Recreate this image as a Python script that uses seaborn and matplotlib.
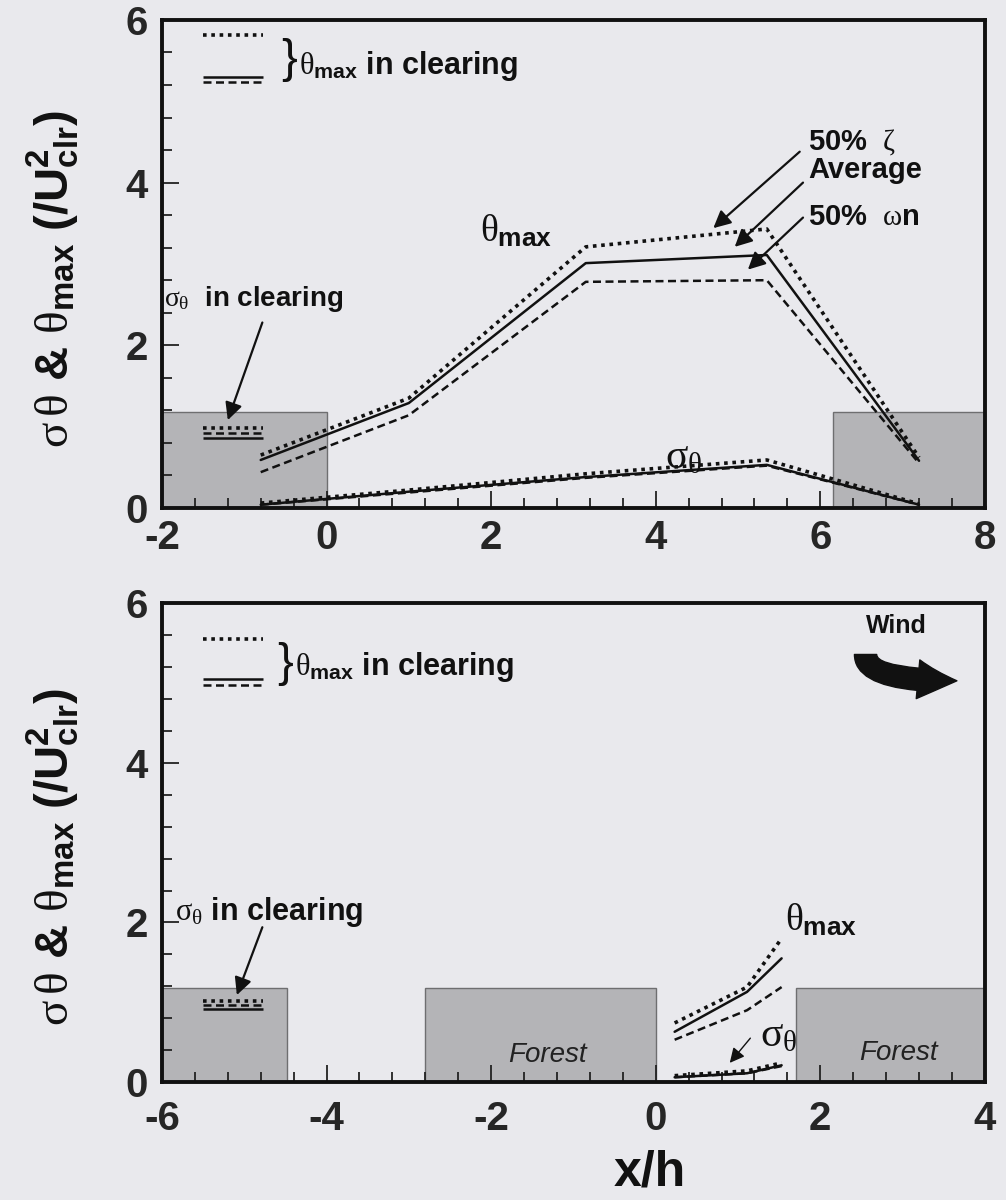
import matplotlib
matplotlib.use("Agg")
import matplotlib.pyplot as plt
import seaborn as sns
import pandas as pd
from matplotlib.ticker import MultipleLocator
from matplotlib.patches import Rectangle

# ---------------- upper panel: single clearing ----------------
x_up = [-0.8, 1.0, 3.15, 5.35, 7.2]
theta_zeta_up = [0.65, 1.35, 3.21, 3.43, 0.62]
theta_avg_up = [0.59, 1.29, 3.01, 3.11, 0.58]
theta_omega_up = [0.44, 1.14, 2.78, 2.80, 0.55]
sigma_zeta_up = [0.06, 0.22, 0.42, 0.59, 0.05]
sigma_avg_up = [0.04, 0.20, 0.38, 0.53, 0.04]
sigma_omega_up = [0.04, 0.19, 0.37, 0.52, 0.04]
# clearing reference values (zeta, average, omega)
clear_theta_up = [5.82, 5.30, 5.24]
clear_sigma_up = [0.98, 0.86, 0.92]
clear_span_up = (-1.5, -0.77)
forest_up = [(-2.0, 0.0), (6.15, 8.0)]

# ---------------- lower panel: forest strip upwind ----------------
x_lo = [0.23, 1.11, 1.53]
theta_zeta_lo = [0.74, 1.19, 1.80]
theta_avg_lo = [0.63, 1.13, 1.55]
theta_omega_lo = [0.53, 0.90, 1.19]
sigma_zeta_lo = [0.08, 0.14, 0.24]
sigma_avg_lo = [0.06, 0.11, 0.21]
sigma_omega_lo = [0.06, 0.11, 0.20]
clear_theta_lo = [5.55, 5.05, 4.97]
clear_sigma_lo = [1.02, 0.91, 0.97]
clear_span_lo = (-5.5, -4.77)
forest_lo = [(-6.0, -4.48), (-2.8, 0.0), (1.7, 4.0)]
forest_height = 1.18

BG = "#e9e9ed"
INK = "#111111"
sns.set_style("ticks")
plt.rcParams["font.family"] = ["Liberation Sans", "DejaVu Sans"]
plt.rcParams["mathtext.fontset"] = "custom"
plt.rcParams["mathtext.it"] = "Liberation Serif"
plt.rcParams["mathtext.rm"] = "Liberation Serif"
plt.rcParams["mathtext.bf"] = "Liberation Sans:bold"
plt.rcParams["axes.unicode_minus"] = False

DOT = (0, (1, 1.3))
DASH = (0, (3.2, 1.8))
styles = {"zeta": (DOT, 2.6), "avg": ("-", 1.8), "omega": (DASH, 1.8)}

YLABEL = (r"$\sigma\,\theta$ & $\theta_{\mathbf{max}}$ "
          r"(/$\mathbf{U}^{\mathbf{2}}_{\mathbf{clr}}$)")

fig = plt.figure(figsize=(10.06, 12), dpi=100, facecolor=BG)
ax1 = fig.add_axes([0.161, 0.5767, 0.818, 0.4067], facecolor=BG)
ax2 = fig.add_axes([0.161, 0.0983, 0.818, 0.399], facecolor=BG)


def style_axes(ax, xlim, xpad):
    ax.set_xlim(*xlim)
    ax.set_ylim(0, 6)
    ax.xaxis.set_major_locator(MultipleLocator(2))
    ax.xaxis.set_minor_locator(MultipleLocator(0.4))
    ax.yaxis.set_major_locator(MultipleLocator(2))
    ax.yaxis.set_minor_locator(MultipleLocator(0.4))
    ax.tick_params(which="both", direction="in", top=False, right=False,
                   width=1.3, color="#222222")
    ax.tick_params(which="major", length=12, labelsize=29, pad=10)
    ax.tick_params(axis="x", which="major", pad=xpad)
    ax.tick_params(which="minor", length=7)
    for lab in ax.get_xticklabels() + ax.get_yticklabels():
        lab.set_fontweight("bold")
    for sp in ax.spines.values():
        sp.set_linewidth(2.8)
        sp.set_color(INK)
        sp.set_visible(True)
    ax.set_ylabel(YLABEL, fontsize=34, fontweight="bold", color=INK)
    ax.yaxis.set_label_coords(-0.097, 0.47)


def draw_forest(ax, spans):
    for x0, x1 in spans:
        ax.add_patch(Rectangle((x0, 0), x1 - x0, forest_height, facecolor="#b4b4b7",
                               edgecolor="#6e6e70", lw=1.0, zorder=0.5))


def draw_series(ax, x, series):
    for key, vals in series.items():
        ls, lw = styles[key]
        df = pd.DataFrame({"x": x, "y": vals})
        sns.lineplot(data=df, x="x", y="y", ax=ax, color=INK,
                     linestyle=ls, linewidth=lw, sort=False, zorder=3)
    ax.set_xlabel("")


def draw_clearing(ax, span, theta_vals, sigma_vals, brace_x, text_y):
    for key, tv, sv in zip(["zeta", "avg", "omega"], theta_vals, sigma_vals):
        ls, lw = styles[key]
        ax.hlines(tv, span[0], span[1], colors=INK, linestyles=[ls], lw=lw)
        ax.hlines(sv, span[0], span[1], colors=INK, linestyles=[ls], lw=lw, zorder=3)
    mid = (max(theta_vals) + min(theta_vals)) / 2
    ax.text(brace_x, mid - 0.02, "}", fontsize=34, ha="left", va="center", color=INK)
    ax.text(brace_x + 0.22, text_y, r"$\theta_{\mathbf{max}}$ in clearing",
            fontsize=22, fontweight="bold", ha="left", va="center", color=INK)


arrow_kw = dict(arrowstyle="-|>", color=INK, lw=1.6, mutation_scale=26,
                shrinkA=0, shrinkB=0)

# ---------------- upper panel ----------------
style_axes(ax1, (-2, 8), 8)
draw_forest(ax1, forest_up)
draw_series(ax1, x_up, {"zeta": theta_zeta_up, "avg": theta_avg_up, "omega": theta_omega_up})
draw_series(ax1, x_up, {"omega": sigma_omega_up, "avg": sigma_avg_up, "zeta": sigma_zeta_up})
draw_clearing(ax1, clear_span_up, clear_theta_up, clear_sigma_up, -0.55, 5.43)
style_axes(ax1, (-2, 8), 8)

ax1.text(-1.97, 2.57, r"$\sigma_{\theta}$  in clearing", fontsize=20, fontweight="bold",
         ha="left", va="center", color=INK)
ax1.annotate("", xy=(-1.2, 1.08), xytext=(-0.78, 2.28), arrowprops=arrow_kw)
ax1.text(1.87, 3.4, r"$\theta_{\mathbf{max}}$", fontsize=27, ha="left", va="center", color=INK)
ax1.text(4.11, 0.62, r"$\sigma_{\theta}$", fontsize=30, ha="left", va="center", color=INK)
ax1.text(5.85, 4.5, r"50%  $\zeta$", fontsize=21, fontweight="bold", ha="left",
         va="center", color=INK)
ax1.text(5.85, 4.15, "Average", fontsize=21, fontweight="bold", ha="left",
         va="center", color=INK)
ax1.text(5.85, 3.58, r"50%  $\omega$n", fontsize=21, fontweight="bold", ha="left",
         va="center", color=INK)
ax1.annotate("", xy=(4.70, 3.44), xytext=(5.75, 4.38), arrowprops=arrow_kw)
ax1.annotate("", xy=(4.96, 3.21), xytext=(5.79, 4.0), arrowprops=arrow_kw)
ax1.annotate("", xy=(5.12, 2.93), xytext=(5.79, 3.57), arrowprops=arrow_kw)

# ---------------- lower panel ----------------
style_axes(ax2, (-6, 4), 13)
draw_forest(ax2, forest_lo)
draw_series(ax2, x_lo, {"zeta": theta_zeta_lo, "avg": theta_avg_lo, "omega": theta_omega_lo})
draw_series(ax2, x_lo, {"omega": sigma_omega_lo, "avg": sigma_avg_lo, "zeta": sigma_zeta_lo})
draw_clearing(ax2, clear_span_lo, clear_theta_lo, clear_sigma_lo, -4.6, 5.2)
style_axes(ax2, (-6, 4), 13)
ax2.set_xlabel("x/h", fontsize=36, fontweight="bold", color=INK)
ax2.xaxis.set_label_coords(0.593, -0.14)

ax2.text(-5.84, 2.13, r"$\sigma_{\theta}$ in clearing", fontsize=22, fontweight="bold",
         ha="left", va="center", color=INK)
ax2.annotate("", xy=(-5.09, 1.09), xytext=(-4.78, 1.94), arrowprops=arrow_kw)
ax2.text(1.57, 2.02, r"$\theta_{\mathbf{max}}$", fontsize=27, ha="left", va="center", color=INK)
ax2.text(1.27, 0.59, r"$\sigma_{\theta}$", fontsize=30, ha="left", va="center", color=INK)
ax2.annotate("", xy=(0.9, 0.24), xytext=(1.15, 0.55),
             arrowprops=dict(arrowstyle="-|>", color=INK, lw=1.0,
                             mutation_scale=22, shrinkA=0, shrinkB=0))
ax2.text(-1.31, 0.34, "Forest", fontsize=20, style="italic", ha="center",
         va="center", color="#222222")
ax2.text(2.95, 0.36, "Forest", fontsize=20, style="italic", ha="center",
         va="center", color="#222222")

# wind direction marker
ax2.text(2.92, 5.71, "Wind", fontsize=18, fontweight="bold", ha="center",
         va="center", color=INK)
ax2.annotate("", xy=(0.966, 0.838), xytext=(0.855, 0.893), xycoords="axes fraction",
             textcoords="axes fraction",
             arrowprops=dict(arrowstyle="simple,head_length=0.7,head_width=0.7,tail_width=0.4",
                             connectionstyle="angle3,angleA=-90,angleB=0", color=INK,
                             mutation_scale=40, shrinkA=0, shrinkB=0))

fig.savefig("out.png", dpi=100, facecolor=BG)
